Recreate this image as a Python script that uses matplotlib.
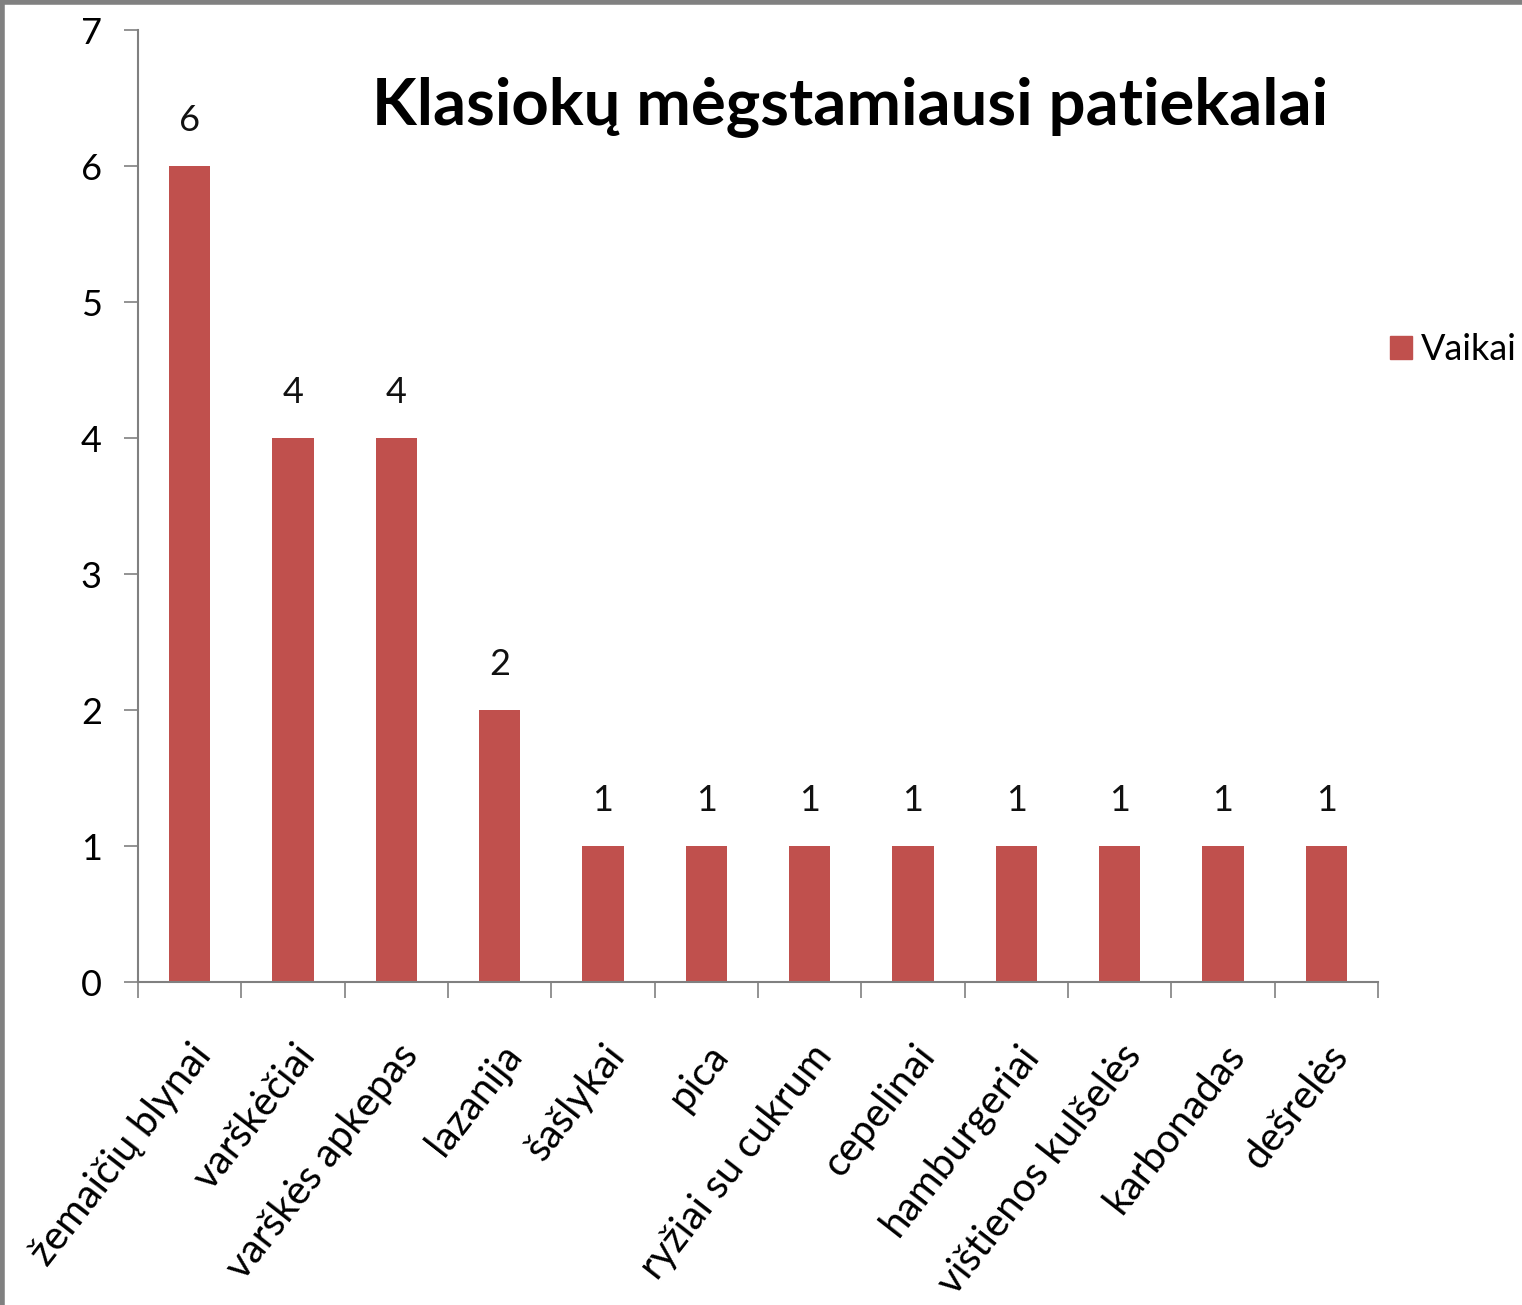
import matplotlib
matplotlib.use("Agg")
import matplotlib.pyplot as plt
from matplotlib.lines import Line2D
from matplotlib.patches import Patch

categories = ["žemaičių blynai", "varškėčiai", "varškės apkepas", "lazanija",
              "šašlykai", "pica", "ryžiai su cukrum", "cepelinai",
              "hamburgeriai", "vištienos kulšelės", "karbonadas", "dešrelės"]
values = [6, 4, 4, 2, 1, 1, 1, 1, 1, 1, 1, 1]
series_name = "Vaikai"
title = "Klasiokų mėgstamiausi patiekalai"
yticks = [0, 1, 2, 3, 4, 5, 6, 7]

plt.rcParams['font.family'] = ['Lato', 'DejaVu Sans']
W, H = 1522, 1305
fig = plt.figure(figsize=(W/100, H/100), dpi=100)
ax = fig.add_axes([138/W, 1-982/H, (1378-138)/W, (982-30)/H])

color = "#C0504D"
x = list(range(len(categories)))
bars = ax.bar(x, values, width=0.40, color=color, zorder=2)
for xi, v in zip(x, values):
    ax.annotate(str(v), (xi, v), xytext=(0, 21), textcoords="offset points",
                ha="center", va="bottom", fontsize=26, color="#111111")

ax.set_xlim(-0.5, len(categories)-0.5)
ax.set_ylim(0, 7)
ax.set_yticks(yticks)
ax.set_yticklabels([str(t) for t in yticks], fontsize=26)
ax.tick_params(axis='y', direction='out', length=10, width=1.2, color="#808080", pad=16)

# x ticks at category boundaries
ax.set_xticks([i - 0.5 for i in range(len(categories)+1)], minor=False)
ax.set_xticklabels([""]*(len(categories)+1))
ax.tick_params(axis='x', direction='out', length=11.5, width=1.2, color="#808080")
ax.set_xticks(x, minor=True)
ax.set_xticklabels(categories, minor=True, rotation=52, ha="right",
                   rotation_mode="anchor", fontsize=29)
ax.tick_params(axis='x', which='minor', length=0, pad=40)

for s in ["top", "right"]:
    ax.spines[s].set_visible(False)
for s in ["left", "bottom"]:
    ax.spines[s].set_color("#808080")
    ax.spines[s].set_linewidth(1.5)

fig.text(850/W, 1-125/H, title, ha="center", va="baseline", fontsize=47,
         fontweight="bold", color="black")

leg = fig.legend(handles=[Patch(facecolor=color, edgecolor=color, label=series_name)],
                 loc="center left", bbox_to_anchor=(1390/W, 1-350/H), frameon=False,
                 fontsize=26, handlelength=0.61, handleheight=0.61, handletextpad=0.25,
                 borderpad=0, borderaxespad=0)

# figure border (left and top visible)
fig.add_artist(Line2D([2/W, 2/W], [0, 1], transform=fig.transFigure, color="#808080", lw=4))
fig.add_artist(Line2D([0, 1], [1-2/H, 1-2/H], transform=fig.transFigure, color="#808080", lw=4))

fig.savefig("out.png", dpi=100)
